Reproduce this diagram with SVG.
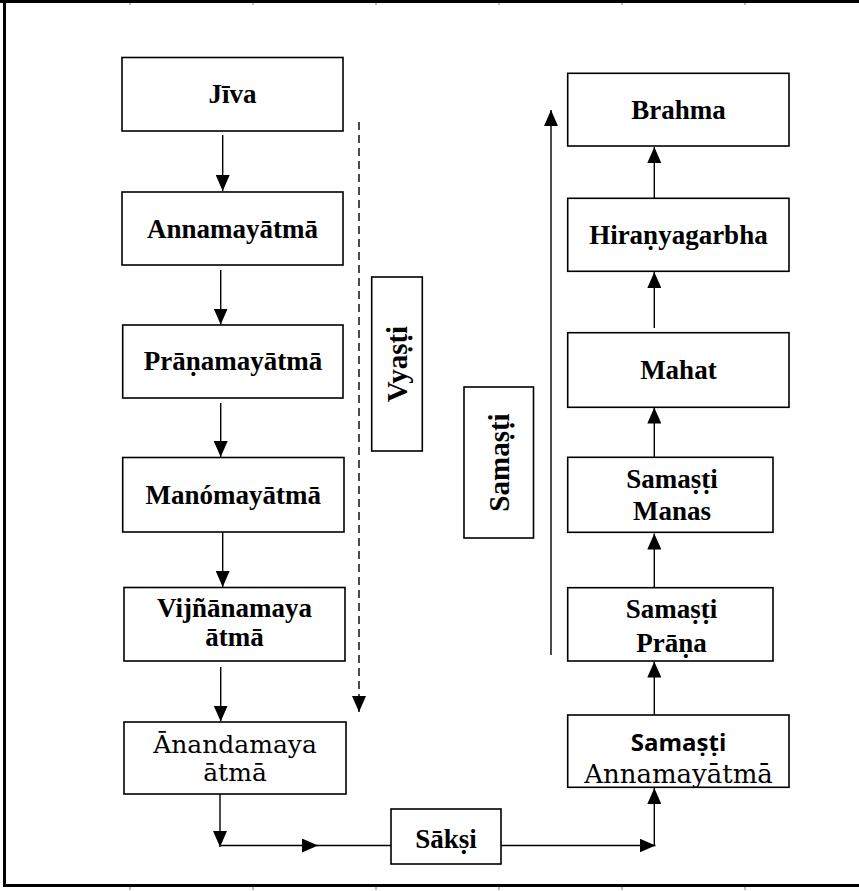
<svg xmlns="http://www.w3.org/2000/svg" width="859" height="891" viewBox="0 0 859 891">
<style>
.box{fill:#fff;stroke:#000;stroke-width:1.6}
.t{font-family:"Liberation Serif","Times New Roman",serif;font-weight:bold;font-size:27px;text-anchor:middle;fill:#000}
.r{font-family:"DejaVu Serif","Liberation Serif",serif;font-weight:normal;font-size:25px;text-anchor:middle;fill:#000}
.s{font-family:"Open Sans","Liberation Sans",sans-serif;font-weight:bold;font-size:24px;text-anchor:middle;fill:#000}
.v{font-size:29px}
.c{stroke:#000;stroke-width:1.4;fill:none}
.d{stroke:#000;stroke-width:1.4;fill:none;stroke-dasharray:8 5}
.frame{stroke:#000;stroke-width:3;fill:none}
.tick{fill:#bbb}
</style>
<defs>
<marker id="ah" markerUnits="userSpaceOnUse" markerWidth="16" markerHeight="14" refX="16" refY="7" orient="auto">
<path d="M0,0 L16,7 L0,14 z" fill="#000"/>
</marker>
</defs>
<rect x="0" y="0" width="859" height="891" fill="#fff"/>
<g id="frame">
<path class="frame" d="M0,1.5 H859 M4.5,0 V887 M3,885.5 H859"/>
<rect class="tick" x="129" y="3" width="2" height="2"/>
<rect class="tick" x="252" y="3" width="2" height="2"/>
<rect class="tick" x="375" y="3" width="2" height="2"/>
<rect class="tick" x="498" y="3" width="2" height="2"/>
<rect class="tick" x="621" y="3" width="2" height="2"/>
<rect class="tick" x="744" y="3" width="2" height="2"/>
<rect class="tick" x="129" y="887" width="2" height="3"/>
<rect class="tick" x="252" y="887" width="2" height="3"/>
<rect class="tick" x="375" y="887" width="2" height="3"/>
<rect class="tick" x="498" y="887" width="2" height="3"/>
<rect class="tick" x="621" y="887" width="2" height="3"/>
<rect class="tick" x="744" y="887" width="2" height="3"/>
</g>
<g id="connectors">
<line class="c" x1="222.7" y1="135" x2="222.7" y2="191" marker-end="url(#ah)"/>
<line class="c" x1="220.7" y1="270" x2="220.7" y2="324.5" marker-end="url(#ah)"/>
<line class="c" x1="220.7" y1="403" x2="220.7" y2="457" marker-end="url(#ah)"/>
<line class="c" x1="222.7" y1="532" x2="222.7" y2="587" marker-end="url(#ah)"/>
<line class="c" x1="220.7" y1="667" x2="220.7" y2="721.5" marker-end="url(#ah)"/>
<line class="c" x1="220" y1="794" x2="220" y2="847" marker-end="url(#ah)"/>
<line class="c" x1="221" y1="845.5" x2="318" y2="845.5" marker-end="url(#ah)"/>
<line class="c" x1="317" y1="845.5" x2="391" y2="845.5"/>
<line class="c" x1="501" y1="845.5" x2="655.5" y2="845.5" marker-end="url(#ah)"/>
<line class="c" x1="654.3" y1="846" x2="654.3" y2="788" marker-end="url(#ah)"/>
<line class="c" x1="654.3" y1="715" x2="654.3" y2="661.5" marker-end="url(#ah)"/>
<line class="c" x1="654.3" y1="588" x2="654.3" y2="533.5" marker-end="url(#ah)"/>
<line class="c" x1="654.3" y1="460" x2="654.3" y2="407.5" marker-end="url(#ah)"/>
<line class="c" x1="654.3" y1="328" x2="654.3" y2="272" marker-end="url(#ah)"/>
<line class="c" x1="654.3" y1="202" x2="654.3" y2="147" marker-end="url(#ah)"/>
<line class="c" x1="551" y1="655" x2="551" y2="110" marker-end="url(#ah)"/>
<line class="d" x1="359" y1="122" x2="359" y2="712" marker-end="url(#ah)"/>
</g>
<g id="jiva"><rect class="box" x="122" y="57.5" width="221" height="73.5"/><text class="t" x="232.5" y="103">Jīva</text></g>
<g id="annamaya"><rect class="box" x="122" y="192" width="221" height="73"/><text class="t" x="232.5" y="237.5">Annamayātmā</text></g>
<g id="pranamaya"><rect class="box" x="122.7" y="325" width="220.3" height="73"/><text class="t" x="233" y="370">Prāṇamayātmā</text></g>
<g id="manomaya"><rect class="box" x="122.7" y="457.5" width="221.3" height="74.5"/><text class="t" x="233.3" y="504">Manómayātmā</text></g>
<g id="vijnanamaya"><rect class="box" x="124" y="587.5" width="221" height="73.5"/><text class="t" x="234.5" y="617">Vijñānamaya</text><text class="t" x="234.5" y="646">ātmā</text></g>
<g id="anandamaya"><rect class="box" x="124" y="722" width="222" height="72"/><text class="r" x="235" y="752.5">Ānandamaya</text><text class="r" x="235" y="780.5">ātmā</text></g>
<g id="saksi"><rect class="box" x="391" y="809" width="110" height="55"/><text class="t" x="446" y="848">Sākṣi</text></g>
<g id="vyasti"><rect class="box" x="371.7" y="277" width="50.6" height="174"/><text class="t v" transform="translate(407,364) rotate(-90)">Vyaṣṭi</text></g>
<g id="samasti-label"><rect class="box" x="464" y="387" width="69.5" height="151"/><text class="t v" transform="translate(508.5,462.5) rotate(-90)">Samaṣṭi</text></g>
<g id="brahma"><rect class="box" x="567.7" y="73.3" width="221.3" height="72.7"/><text class="t" x="678.4" y="119">Brahma</text></g>
<g id="hiranyagarbha"><rect class="box" x="567.7" y="198.3" width="221.3" height="73"/><text class="t" x="678.4" y="243.5">Hiraṇyagarbha</text></g>
<g id="mahat"><rect class="box" x="567.7" y="332.7" width="221.3" height="74.6"/><text class="t" x="678.4" y="379">Mahat</text></g>
<g id="samasti-manas"><rect class="box" x="567.7" y="457.3" width="205.3" height="75"/><text class="t" x="672" y="488">Samaṣṭi</text><text class="t" x="672" y="520">Manas</text></g>
<g id="samasti-prana"><rect class="box" x="567.7" y="587.7" width="205.3" height="73.3"/><text class="t" x="671.5" y="618">Samaṣṭi</text><text class="t" x="671.5" y="651.5">Prāṇa</text></g>
<g id="samasti-annamaya"><rect class="box" x="567.7" y="715" width="221.3" height="72.3"/><text class="s" x="678.5" y="751">Samaṣṭi</text><text class="r" x="678.5" y="783.3" style="font-size:26px">Annamayātmā</text></g>
</svg>
